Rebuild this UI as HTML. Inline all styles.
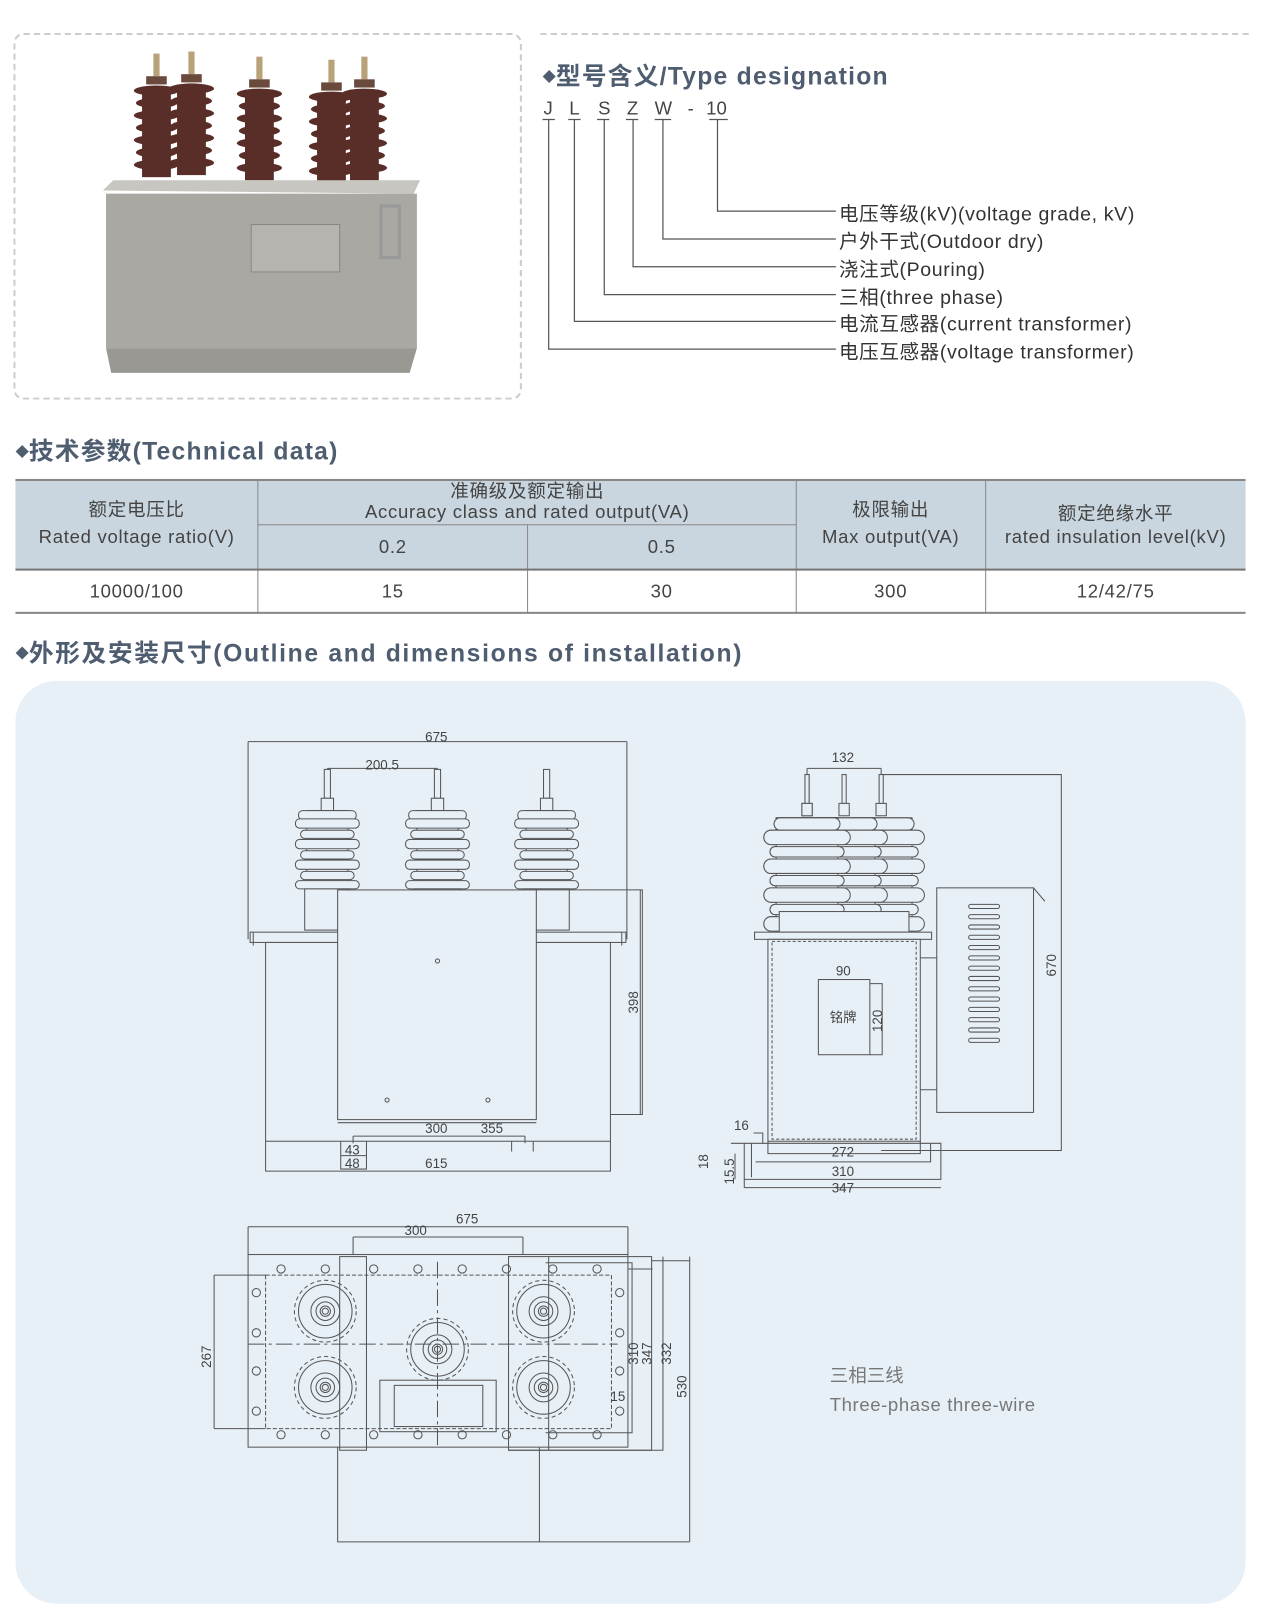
<!DOCTYPE html>
<html><head><meta charset="utf-8">
<style>
html,body{margin:0;padding:0;background:#fff;width:1261px;height:1615px;overflow:hidden}
#w{position:absolute;left:0;top:0;width:1225px;height:1568px;transform:scale(1.0294,1.030);transform-origin:0 0;font-family:"Liberation Sans","Noto Sans CJK SC",sans-serif;color:#333}
.h{position:absolute;font-weight:bold;font-size:24px;color:#4f5d70;white-space:nowrap;letter-spacing:1.2px}
.h span{font-size:13px;vertical-align:3px;letter-spacing:0}
.t{position:absolute;font-size:19px;color:#333;white-space:nowrap;letter-spacing:0.6px}
table{position:absolute;left:15px;top:465px;width:1195px;border-collapse:collapse;font-size:18px;color:#444;letter-spacing:0.7px}
td{border-left:1px solid #888;border-right:1px solid #888;text-align:center;padding:0;line-height:22px}
td:first-child{border-left:none}td:last-child{border-right:none}
.hd td{background:#c9d6df}
</style></head><body><div id="w">
<div style="position:absolute;left:13px;top:32px;width:490px;height:352px;border:2px dashed #ccc;border-radius:10px"></div>
<svg style="position:absolute;left:0;top:0" width="520" height="400">
<defs><g id="ins"><rect x="-3" y="0" width="6" height="22" fill="#b9a27a"/><rect x="-10" y="22" width="20" height="8" fill="#6b4a3e"/>
<g fill="#5a2e28"><ellipse cx="0" cy="36" rx="22" ry="5"/><ellipse cx="0" cy="48" rx="20" ry="5"/><ellipse cx="0" cy="60" rx="22" ry="5"/><ellipse cx="0" cy="72" rx="20" ry="5"/><ellipse cx="0" cy="84" rx="22" ry="5"/><ellipse cx="0" cy="96" rx="20" ry="5"/><ellipse cx="0" cy="108" rx="22" ry="5"/><rect x="-14" y="32" width="28" height="88"/></g></g></defs>
<use href="#ins" x="152" y="52"/><use href="#ins" x="186" y="50"/><use href="#ins" x="252" y="55"/><use href="#ins" x="322" y="58"/><use href="#ins" x="354" y="55"/>
<polygon points="100,185 110,175 408,175 402,188" fill="#c8c6c0"/>
<rect x="103" y="188" width="302" height="150" fill="#a9a8a3"/>
<polygon points="103,338 405,338 398,362 108,362" fill="#9a9893"/>
<rect x="244" y="218" width="86" height="46" fill="#b6b4ae" stroke="#8a8884"/>
<rect x="370" y="200" width="18" height="50" fill="none" stroke="#999" stroke-width="3"/>
</svg>
<div style="position:absolute;left:525px;top:32px;width:688px;border-top:2px dashed #ccc"></div>
<div class="h" style="left:527px;top:54px"><span>◆</span>型号含义/Type designation</div>
<svg style="position:absolute;left:0;top:0" width="1225" height="360" font-family="Liberation Sans,Noto Sans CJK SC,sans-serif" font-size="18" fill="#444">
<g stroke="#555" stroke-width="1.2" fill="none">
<path d="M527,116h12M552,116h12M580,116h12M608,116h12M636,116h16M689,116h18"/>
<path d="M533,116V339H812M558,116V312H812M587,116V286H812M615,116V259H812M644,116V232H812M697,116V205H812"/>
</g>
<text x="528" y="111">J</text><text x="553" y="111">L</text><text x="581" y="111">S</text><text x="609" y="111">Z</text><text x="636" y="111">W</text><text x="668" y="111">-</text><text x="686" y="111">10</text>
</svg>
<div class="t" style="left:815px;top:193px">电压等级(kV)(voltage grade, kV)</div>
<div class="t" style="left:815px;top:220px">户外干式(Outdoor dry)</div>
<div class="t" style="left:815px;top:247px">浇注式(Pouring)</div>
<div class="t" style="left:815px;top:274px">三相(three phase)</div>
<div class="t" style="left:815px;top:300px">电流互感器(current transformer)</div>
<div class="t" style="left:815px;top:327px">电压互感器(voltage transformer)</div>

<div class="h" style="left:15px;top:418px"><span>◆</span>技术参数(Technical data)</div>
<table>
<tr class="hd" style="border-top:2px solid #888"><td rowspan="2" style="width:236px;height:84px">额定电压比<br><span style="line-height:30px">Rated voltage ratio(V)</span></td><td colspan="2" style="height:42px;border-bottom:1px solid #888;vertical-align:top;line-height:20px">准确级及额定输出<br>Accuracy class and rated output(VA)</td><td rowspan="2" style="width:183px">极限输出<br><span style="line-height:30px">Max output(VA)</span></td><td rowspan="2" style="width:253px">额定绝缘水平<br>rated insulation level(kV)</td></tr>
<tr class="hd"><td style="width:261px;height:42px">0.2</td><td style="width:261px">0.5</td></tr>
<tr style="border-top:2px solid #777;border-bottom:2px solid #888"><td style="height:40px">10000/100</td><td>15</td><td>30</td><td>300</td><td>12/42/75</td></tr>
</table>
<div class="h" style="left:15px;top:614px;letter-spacing:1.6px"><span>◆</span>外形及安装尺寸(Outline and dimensions of installation)</div>
<div style="position:absolute;left:15px;top:661px;width:1195px;height:896px;background:#e8f0f7;border-radius:40px"></div>

<svg style="position:absolute;left:0;top:0" width="1225" height="1568" font-family="Liberation Sans,Noto Sans CJK SC,sans-serif" font-size="13" fill="#444">
<defs>
<g id="fi" stroke="#555" stroke-width="1" fill="#e8f0f7">
<rect x="-3" y="0" width="6" height="28"/><rect x="-6" y="28" width="12" height="12"/>
<rect x="-20" y="40" width="40" height="80"/>
<rect x="-28" y="40" width="56" height="9" rx="4"/><rect x="-31" y="48" width="62" height="9" rx="4"/>
<rect x="-26" y="59" width="52" height="8" rx="4"/><rect x="-31" y="68" width="62" height="9" rx="4"/>
<rect x="-26" y="79" width="52" height="8" rx="4"/><rect x="-31" y="88" width="62" height="9" rx="4"/>
<rect x="-26" y="99" width="52" height="8" rx="4"/><rect x="-31" y="108" width="62" height="8" rx="4"/>
<rect x="-22" y="116" width="44" height="40"/>
</g>
<g id="si" stroke="#555" stroke-width="1" fill="#e8f0f7">
<rect x="-2" y="0" width="4" height="28"/><rect x="-5" y="28" width="10" height="12"/>
<rect x="-30" y="42" width="60" height="130"/>
<rect x="-32" y="42" width="64" height="12" rx="6"/><rect x="-42" y="54" width="84" height="14" rx="7"/>
<rect x="-36" y="70" width="72" height="10" rx="5"/><rect x="-42" y="82" width="84" height="14" rx="7"/>
<rect x="-36" y="98" width="72" height="10" rx="5"/><rect x="-42" y="110" width="84" height="14" rx="7"/>
<rect x="-36" y="126" width="72" height="10" rx="5"/><rect x="-42" y="138" width="84" height="14" rx="7"/>
</g>
<g id="fl" stroke="#555" stroke-width="1" fill="none">
<circle r="30" stroke-dasharray="4 3"/><circle r="26"/><circle r="14"/><circle r="9"/><circle r="5"/><circle r="3"/>
</g>
</defs>
<g stroke="#555" stroke-width="1" fill="none">
<path d="M241,720H609M241,720V912M609,720V912M318,746H425M318,746V760M425,746V760"/>
<use href="#fi" x="318" y="747"/><use href="#fi" x="425" y="747"/><use href="#fi" x="531" y="747"/>
<rect x="243" y="905" width="365" height="10" fill="#e8f0f7"/>
<rect x="258" y="915" width="335" height="193" fill="#e8f0f7"/>
<rect x="328" y="864" width="193" height="223" fill="#e8f0f7"/>
<path d="M328,1090H521M521,864H624V1082H593M622,864V1082"/>
<path d="M343,1103H510M343,1103V1110M510,1103V1110M258,1108V1137H593V1108M331,1108V1135H356V1108M331,1122H356M497,1108V1118M518,1108V1118"/>
<circle cx="425" cy="933" r="2"/><circle cx="376" cy="1068" r="2"/><circle cx="474" cy="1068" r="2"/>
<path d="M246,905V918M604,905V918"/>
<path d="M784,746H856M784,746V760M856,746V760M856,752H1031V1117H856"/>
<use href="#si" x="784" y="752"/><use href="#si" x="856" y="752"/><use href="#si" x="820" y="752"/>
<use href="#si" x="784" y="752"/>
<rect x="757" y="885" width="126" height="20" fill="#e8f0f7"/>
<rect x="733" y="905" width="172" height="7" fill="#e8f0f7"/>
<rect x="746" y="912" width="148" height="196" fill="#e8f0f7"/>
<rect x="750" y="914" width="140" height="192" stroke-dasharray="3 2"/>
<rect x="795" y="951" width="50" height="73"/><path d="M795,951H845M845,955H857V1024H845"/>
<rect x="910" y="862" width="94" height="218" fill="#e8f0f7"/>
<path d="M894,930H910M894,1058H910M1004,862L1015,875"/>
<g stroke-width="1">
<rect x="941" y="878" width="30" height="4" rx="2"/><rect x="941" y="888" width="30" height="4" rx="2"/><rect x="941" y="898" width="30" height="4" rx="2"/><rect x="941" y="908" width="30" height="4" rx="2"/><rect x="941" y="918" width="30" height="4" rx="2"/><rect x="941" y="928" width="30" height="4" rx="2"/><rect x="941" y="938" width="30" height="4" rx="2"/><rect x="941" y="948" width="30" height="4" rx="2"/><rect x="941" y="958" width="30" height="4" rx="2"/><rect x="941" y="968" width="30" height="4" rx="2"/><rect x="941" y="978" width="30" height="4" rx="2"/><rect x="941" y="988" width="30" height="4" rx="2"/><rect x="941" y="998" width="30" height="4" rx="2"/><rect x="941" y="1008" width="30" height="4" rx="2"/>
</g>
<path d="M723,1110H914V1125M730,1110V1143M746,1108V1120H894V1108M732,1100H741V1110M734,1128H904V1110M723,1145H914V1110M723,1153H914M710,1110H723M714,1120V1145M723,1153V1110"/>
<path d="M241,1191H610M241,1191V1218M610,1191V1218M343,1201H508M343,1201V1218M508,1201V1218"/>
<rect x="241" y="1218" width="369" height="187"/>
<rect x="258" y="1238" width="336" height="149" stroke-dasharray="4 2"/>
<rect x="330" y="1220" width="26" height="188"/>
<rect x="494" y="1220" width="139" height="188"/>
<path d="M533,1220V1408M633,1224H670M610,1232H634M494,1408H644V1220M208,1238H258M208,1387H258M208,1238V1387M530,1226H614V1391H530M328,1405V1497H524V1405M425,1497H670M670,1220V1497"/>
<path d="M425,1225V1405M241,1305H600" stroke-dasharray="16 4 3 4"/>
<use href="#fl" x="316" y="1273"/><use href="#fl" x="316" y="1347"/><use href="#fl" x="528" y="1273"/><use href="#fl" x="528" y="1347"/><use href="#fl" x="425" y="1310"/>
<g>
<circle cx="273" cy="1232" r="4"/><circle cx="316" cy="1232" r="4"/><circle cx="363" cy="1232" r="4"/><circle cx="406" cy="1232" r="4"/><circle cx="449" cy="1232" r="4"/><circle cx="492" cy="1232" r="4"/><circle cx="537" cy="1232" r="4"/><circle cx="580" cy="1232" r="4"/>
<circle cx="273" cy="1393" r="4"/><circle cx="316" cy="1393" r="4"/><circle cx="363" cy="1393" r="4"/><circle cx="406" cy="1393" r="4"/><circle cx="449" cy="1393" r="4"/><circle cx="492" cy="1393" r="4"/><circle cx="537" cy="1393" r="4"/><circle cx="580" cy="1393" r="4"/>
<circle cx="249" cy="1255" r="4"/><circle cx="249" cy="1294" r="4"/><circle cx="249" cy="1331" r="4"/><circle cx="249" cy="1370" r="4"/>
<circle cx="602" cy="1255" r="4"/><circle cx="602" cy="1294" r="4"/><circle cx="602" cy="1331" r="4"/><circle cx="602" cy="1370" r="4"/>
</g>
<rect x="369" y="1340" width="113" height="50"/><rect x="383" y="1345" width="86" height="40"/>
</g>
<g font-size="13">
<text x="413" y="720">675</text><text x="355" y="747">200.5</text>
<text x="413" y="1100">300</text><text x="467" y="1100">355</text>
<text x="335" y="1121">43</text><text x="335" y="1134">48</text><text x="413" y="1134">615</text>
<text transform="translate(620,984) rotate(-90)">398</text>
<text x="808" y="740">132</text><text x="812" y="947">90</text><text x="806" y="992">铭牌</text>
<text transform="translate(857,1002) rotate(-90)">120</text>
<text transform="translate(1026,948) rotate(-90)">670</text>
<text x="713" y="1097">16</text><text x="808" y="1123">272</text><text x="808" y="1142">310</text><text x="808" y="1158">347</text>
<text transform="translate(688,1135) rotate(-90)">18</text><text transform="translate(713,1150) rotate(-90)">15.5</text>
<text x="443" y="1188">675</text><text x="393" y="1199">300</text>
<text transform="translate(205,1328) rotate(-90)">267</text>
<text transform="translate(620,1325) rotate(-90)">310</text><text transform="translate(633,1325) rotate(-90)">347</text><text transform="translate(652,1325) rotate(-90)">332</text>
<text transform="translate(667,1357) rotate(-90)">530</text>
<text x="593" y="1360">15</text>
</g>
<text x="806" y="1342" font-size="18" fill="#777">三相三线</text>
<text x="806" y="1370" font-size="18" fill="#777" letter-spacing="0.6">Three-phase three-wire</text>
</svg>
</div></body></html>
